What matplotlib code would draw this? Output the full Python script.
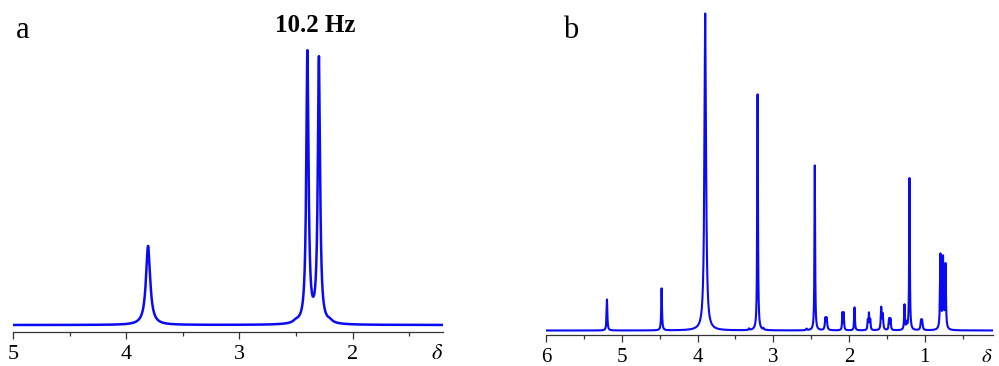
import numpy as np
import matplotlib
matplotlib.use("Agg")
import matplotlib.pyplot as plt
from matplotlib.ticker import MultipleLocator

plt.rcParams["font.family"] = ["Liberation Serif", "DejaVu Serif"]

# ---- panel a: 1H lines (ppm), peak intensities, linewidths (ppm) ----
shift_a = [3.808, 2.399, 2.297, 2.50, 2.20]
height_a = [79, 271, 265, 2.0, 2.0]
width_a = [0.045, 0.024, 0.024, 0.05, 0.05]
xticks_a = [5, 4, 3, 2]

# ---- panel b ----
shift_b = [5.195, 4.474, 3.898, 3.320, 3.207, 3.130, 2.560, 2.452,
           2.312, 2.295, 2.088, 2.070, 1.927, 1.752, 1.737, 1.720,
           1.575, 1.555, 1.471, 1.453, 1.268, 1.240, 1.202, 1.050,
           1.035, 0.793, 0.759, 0.727]
height_b = [31, 42, 317, 1.5, 236, 1.5, 1.5, 165,
            11, 11, 17, 17, 23, 9, 16, 10,
            22, 15, 11, 11, 25, 6, 152, 9,
            9, 74, 70, 64]
width_b = [0.012, 0.012, 0.025, 0.012, 0.011, 0.012, 0.015, 0.010,
           0.016, 0.016, 0.010, 0.010, 0.011, 0.011, 0.011, 0.011,
           0.014, 0.014, 0.012, 0.012, 0.012, 0.012, 0.010, 0.015,
           0.015, 0.013, 0.013, 0.013]
xticks_b = [6, 5, 4, 3, 2, 1]

LINE = "#0a0af5"
AXC = "#333333"


def spectrum(x, shifts, heights, widths):
    y = np.zeros_like(x)
    for c, h, w in zip(shifts, heights, widths):
        y += h / (1.0 + (2.0 * (x - c) / w) ** 2)
    return y


W, H = 999, 366
fig = plt.figure(figsize=(W / 100, H / 100), dpi=100)


def px_axes(left, right, axis_y, top_y):
    return fig.add_axes([left / W, (H - axis_y) / H,
                         (right - left) / W, (axis_y - top_y) / H])


def style(ax, lo, hi, ticks, fs, label_off):
    ax.set_xlim(hi, lo)
    for s in ("left", "right", "top"):
        ax.spines[s].set_visible(False)
    ax.spines["bottom"].set_color(AXC)
    ax.spines["bottom"].set_linewidth(0.9)
    ax.set_yticks([])
    ax.set_xticks(ticks)
    ax.set_xticklabels([str(t) for t in ticks])
    ax.xaxis.set_minor_locator(MultipleLocator(0.5))
    ax.tick_params(axis="x", which="major", direction="out", length=5,
                   width=0.9, color=AXC, labelsize=fs, pad=label_off)
    ax.tick_params(axis="x", which="minor", direction="out", length=3,
                   width=0.9, color=AXC)
    ax.patch.set_alpha(0)
    ax.annotate(r"$\delta$", xy=(1, 0), xycoords="axes fraction",
                xytext=(0, -(label_off + 5)), textcoords="offset points",
                ha="right", va="top", fontsize=fs, color="black",
                math_fontfamily="stix")


# panel a
ax_a = px_axes(13.3, 443, 332, 10)
xa = np.linspace(1.2, 5.0, 20000)
ax_a.plot(xa, spectrum(xa, shift_a, height_a, width_a), color=LINE, lw=1.8)
ax_a.set_ylim(-7, 315)
style(ax_a, 1.2, 5.0, xticks_a, 16, 4.5)

# panel b
ax_b = px_axes(546, 993, 335, 10)
xb = np.linspace(0.1, 6.0, 40000)
ax_b.plot(xb, spectrum(xb, shift_b, height_b, width_b), color=LINE, lw=1.5)
ax_b.set_ylim(-4.5, 320.5)
style(ax_b, 0.1, 6.0, xticks_b, 15, 4.0)

fig.text(16 / W, 1 - 38 / H, "a", fontsize=22, va="baseline", ha="left")
fig.text(315.5 / W, 1 - 32 / H, "10.2 Hz", fontsize=18, fontweight="bold",
         va="baseline", ha="center")
fig.text(563 / W, 1 - 38 / H, "b", fontsize=22, va="baseline", ha="left")

fig.savefig("out.png", dpi=100)
